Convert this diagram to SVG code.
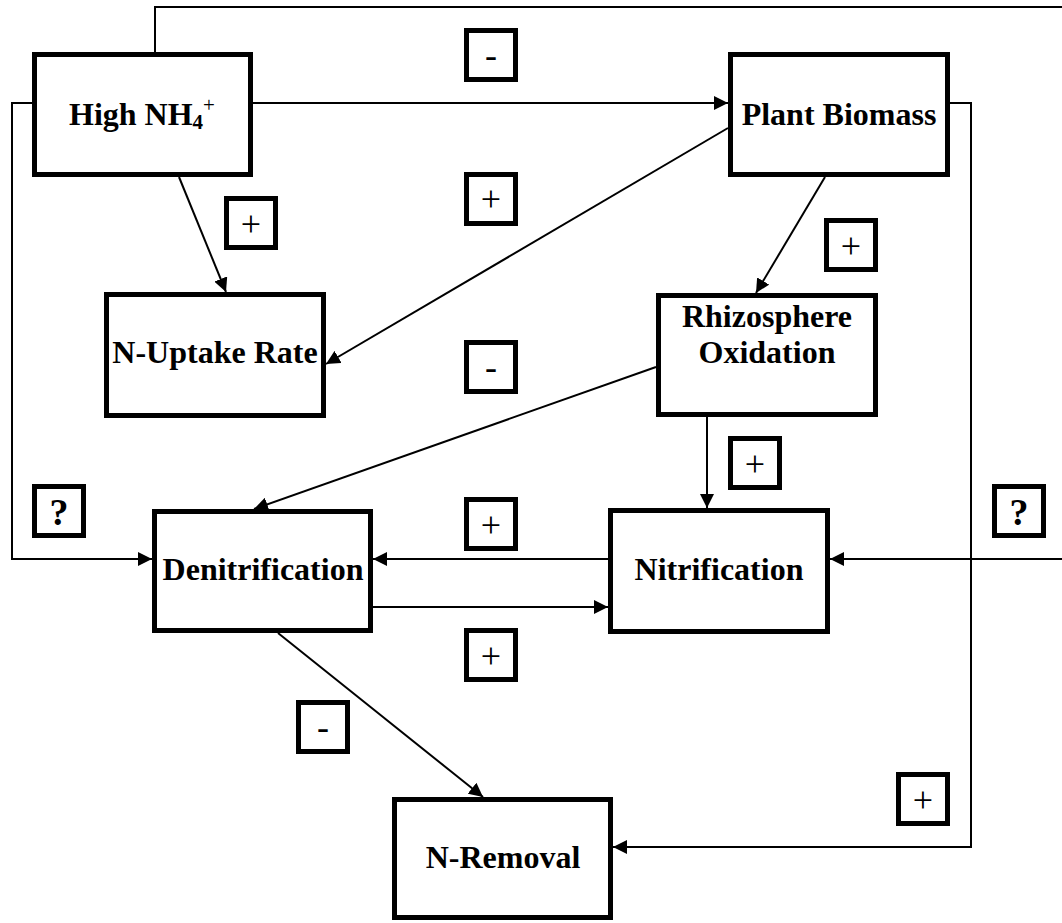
<svg xmlns="http://www.w3.org/2000/svg" width="1062" height="923" viewBox="0 0 1062 923">
<style>
.box{fill:#fff;stroke:#000;stroke-width:5}
.lbl{fill:#fff;stroke:#000;stroke-width:5}
.nt{font-family:"Liberation Serif","Times New Roman",serif;font-weight:bold;font-size:32px;fill:#000;text-anchor:middle}
.sg{font-family:"Liberation Serif","Times New Roman",serif;font-size:36px;fill:#000;text-anchor:middle}
.q{font-family:"Liberation Serif","Times New Roman",serif;font-weight:bold;font-size:38px;fill:#000;text-anchor:middle}
.c{fill:none;stroke:#000;stroke-width:2}
</style>
<defs>
<marker id="ah" markerUnits="userSpaceOnUse" markerWidth="14" markerHeight="14" refX="14" refY="7" orient="auto">
<path d="M0,0 L14,7 L0,14 z" fill="#000"/>
</marker>
</defs>
<rect width="1062" height="923" fill="#fff"/>
<g id="connectors">
<path class="c" d="M253,103 H728" marker-end="url(#ah)"/>
<path class="c" d="M155,52 V7 H1075 V559 H830" marker-end="url(#ah)"/>
<path class="c" d="M32,103 H12 V559 H152" marker-end="url(#ah)"/>
<path class="c" d="M179,177 L226,292" marker-end="url(#ah)"/>
<path class="c" d="M728,128 L326,364" marker-end="url(#ah)"/>
<path class="c" d="M825,177 L756,293" marker-end="url(#ah)"/>
<path class="c" d="M950,103 H971 V847 H613" marker-end="url(#ah)"/>
<path class="c" d="M656,367 L254,509" marker-end="url(#ah)"/>
<path class="c" d="M707,417 V508" marker-end="url(#ah)"/>
<path class="c" d="M608,559 H373" marker-end="url(#ah)"/>
<path class="c" d="M373,607 H608" marker-end="url(#ah)"/>
<path class="c" d="M278,633 L483,797" marker-end="url(#ah)"/>
</g>
<g id="high-nh4">
<rect class="box" x="34.5" y="54.5" width="216" height="120"/>
<text class="nt" x="142" y="125">High NH<tspan font-size="21" dy="4">4</tspan><tspan font-size="21" font-weight="normal" dy="-17">+</tspan></text>
</g>
<g id="plant-biomass">
<rect class="box" x="730.5" y="54.5" width="217" height="120"/>
<text class="nt" x="839" y="125">Plant Biomass</text>
</g>
<g id="n-uptake-rate">
<rect class="box" x="106.5" y="294.5" width="217" height="121"/>
<text class="nt" x="215" y="363">N-Uptake Rate</text>
</g>
<g id="rhizosphere-oxidation">
<rect class="box" x="658.5" y="295.5" width="217" height="119"/>
<text class="nt" x="767" y="327">Rhizosphere</text>
<text class="nt" x="767" y="363">Oxidation</text>
</g>
<g id="denitrification">
<rect class="box" x="154.5" y="511.5" width="216" height="119"/>
<text class="nt" x="263" y="580">Denitrification</text>
</g>
<g id="nitrification">
<rect class="box" x="610.5" y="510.5" width="217" height="121"/>
<text class="nt" x="719" y="580">Nitrification</text>
</g>
<g id="n-removal">
<rect class="box" x="394.5" y="799.5" width="216" height="118"/>
<text class="nt" x="503" y="868">N-Removal</text>
</g>
<g id="labels">
<rect class="lbl" x="466.5" y="30.5" width="49" height="49"/><text class="sg" x="491" y="67">-</text>
<rect class="lbl" x="466.5" y="174.5" width="49" height="49"/><text class="sg" x="491" y="211">+</text>
<rect class="lbl" x="226.5" y="198.5" width="49" height="49"/><text class="sg" x="251" y="236">+</text>
<rect class="lbl" x="826.5" y="220.5" width="49" height="49"/><text class="sg" x="851" y="258">+</text>
<rect class="lbl" x="466.5" y="342.5" width="49" height="49"/><text class="sg" x="491" y="379">-</text>
<rect class="lbl" x="730.5" y="438.5" width="49" height="49"/><text class="sg" x="755" y="476">+</text>
<rect class="lbl" x="34.5" y="486.5" width="49" height="49"/><text class="q" x="59" y="525">?</text>
<rect class="lbl" x="466.5" y="499.5" width="49" height="49"/><text class="sg" x="491" y="537">+</text>
<rect class="lbl" x="994.5" y="486.5" width="49" height="49"/><text class="q" x="1019" y="525">?</text>
<rect class="lbl" x="466.5" y="630.5" width="49" height="49"/><text class="sg" x="491" y="668">+</text>
<rect class="lbl" x="298.5" y="702.5" width="49" height="49"/><text class="sg" x="323" y="739">-</text>
<rect class="lbl" x="898.5" y="774.5" width="49" height="49"/><text class="sg" x="923" y="812">+</text>
</g>
</svg>
